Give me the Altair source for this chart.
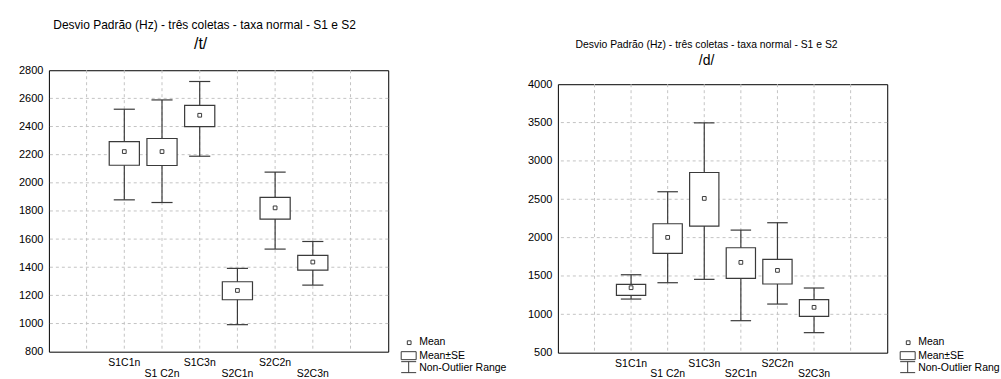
import altair as alt
import pandas as pd

FONT = "Liberation Sans"
LINE = "#3a3a3a"
GRID = "#c4c4c4"

# Categories (two sessions x three collections, normal rate)
CATEGORIES = ["S1C1n", "S1 C2n", "S1C3n", "S2C1n", "S2C2n", "S2C3n"]
POSITIONS = [2, 3, 4, 5, 6, 7]
LABEL_ROW = [0, 1, 0, 1, 0, 1]

# /t/ : standard deviation (Hz)
T_MEAN = [2222, 2222, 2480, 1235, 1822, 1437]
T_SE_LO = [2125, 2123, 2400, 1169, 1742, 1380]
T_SE_HI = [2293, 2315, 2551, 1297, 1896, 1484]
T_MIN = [1879, 1860, 2189, 992, 1529, 1273]
T_MAX = [2523, 2589, 2720, 1392, 2076, 1583]
T_TICKS = [800, 1000, 1200, 1400, 1600, 1800, 2000, 2200, 2400, 2600, 2800]

# /d/ : standard deviation (Hz)
D_MEAN = [1347, 2003, 2511, 1677, 1573, 1091]
D_SE_LO = [1247, 1794, 2150, 1469, 1395, 974]
D_SE_HI = [1391, 2181, 2849, 1868, 1716, 1191]
D_MIN = [1199, 1412, 1456, 917, 1134, 761]
D_MAX = [1516, 2598, 3496, 2098, 2194, 1343]
D_TICKS = [500, 1000, 1500, 2000, 2500, 3000, 3500, 4000]

X_GRID = [1, 2, 3, 4, 5, 6, 7, 8]

TITLE = "Desvio Padrão (Hz) - três coletas - taxa normal - S1 e S2"
LEGEND_LABELS = ["Mean", "Mean±SE", "Non-Outlier Range"]

BOX_HALF = 0.4
CAP_HALF = 0.28

ONE = pd.DataFrame({"k": [0]})


def frame(mean, se_lo, se_hi, lo, hi):
    df = pd.DataFrame({
        "cat": CATEGORIES, "pos": POSITIONS, "row": LABEL_ROW,
        "mean": mean, "se_lo": se_lo, "se_hi": se_hi, "lo": lo, "hi": hi,
    })
    df["box_l"] = df["pos"] - BOX_HALF
    df["box_r"] = df["pos"] + BOX_HALF
    df["cap_l"] = df["pos"] - CAP_HALF
    df["cap_r"] = df["pos"] + CAP_HALF
    return df


def legend(ox, oy, size, limit=None):
    one = alt.Chart(ONE)
    txt = dict(font=FONT, fontSize=size, align="left", baseline="middle", color="black")
    layers = [
        one.mark_point(shape="square", filled=True, fill="white", stroke=LINE,
                       strokeWidth=1, size=14, opacity=1).encode(
            x=alt.value(ox + 8), y=alt.value(oy)),
        one.mark_rect(fill="white", stroke=LINE, strokeWidth=1).encode(
            x=alt.value(ox), x2=alt.value(ox + 15),
            y=alt.value(oy + 9), y2=alt.value(oy + 17)),
        one.mark_rule(color=LINE, strokeWidth=1).encode(
            x=alt.value(ox), x2=alt.value(ox + 15), y=alt.value(oy + 19)),
        one.mark_rule(color=LINE, strokeWidth=1).encode(
            x=alt.value(ox), x2=alt.value(ox + 15), y=alt.value(oy + 30)),
        one.mark_rule(color=LINE, strokeWidth=1).encode(
            x=alt.value(ox + 7.5), y=alt.value(oy + 19), y2=alt.value(oy + 30)),
        one.mark_text(**txt).encode(x=alt.value(ox + 18), y=alt.value(oy - 1),
                                     text=alt.value(LEGEND_LABELS[0])),
        one.mark_text(**txt).encode(x=alt.value(ox + 18), y=alt.value(oy + 13),
                                     text=alt.value(LEGEND_LABELS[1])),
    ]
    last = dict(txt)
    if limit:
        last.update(limit=limit, ellipsis="\u200b")
    layers.append(one.mark_text(**last).encode(
        x=alt.value(ox + 18), y=alt.value(oy + 25), text=alt.value(LEGEND_LABELS[2])))
    return layers


def headings(title, subtitle, title_xy, sub_xy, title_size, sub_size):
    one = alt.Chart(ONE)
    return [
        one.mark_text(font=FONT, fontSize=title_size, align="center", baseline="middle",
                      color="black").encode(
            x=alt.value(title_xy[0]), y=alt.value(title_xy[1]), text=alt.value(title)),
        one.mark_text(font=FONT, fontSize=sub_size, align="center", baseline="middle",
                      color="black").encode(
            x=alt.value(sub_xy[0]), y=alt.value(sub_xy[1]), text=alt.value(subtitle)),
    ]


def panel(df, ticks, width, height, heads, rows, legend_xy, legend_limit=None,
          anchor=None):
    base = alt.Chart(df)
    x_scale = alt.Scale(domain=[0, 9], nice=False, zero=False)
    y_scale = alt.Scale(domain=[ticks[0], ticks[-1]], nice=False, zero=False)
    x_axis = alt.Axis(values=X_GRID, labels=False, ticks=False, domain=False,
                      grid=False, title=None)
    y_axis = alt.Axis(values=ticks, ticks=False, domain=False, grid=False, format="d",
                      title=None, labelPadding=6, labelOverlap=False, labelFlush=False,
                      labelFont=FONT, labelFontSize=11, labelColor="black")

    def X(field):
        return alt.X(field, scale=x_scale, axis=x_axis)

    def Y(field):
        return alt.Y(field, scale=y_scale, axis=y_axis)

    # interior dashed gridlines
    vgrid = alt.Chart(pd.DataFrame({"g": X_GRID})).mark_rule(
        color=GRID, strokeWidth=1, strokeDash=[3, 3]).encode(x=X("g:Q"))
    hgrid = alt.Chart(pd.DataFrame({"g": ticks[1:-1]})).mark_rule(
        color=GRID, strokeWidth=1, strokeDash=[3, 3]).encode(y=Y("g:Q"))

    whisker = base.mark_rule(color=LINE, strokeWidth=1.2).encode(
        x=X("pos:Q"), y=Y("lo:Q"), y2="hi:Q")
    cap_hi = base.mark_rule(color=LINE, strokeWidth=1.2).encode(
        x=X("cap_l:Q"), x2="cap_r:Q", y=Y("hi:Q"))
    cap_lo = base.mark_rule(color=LINE, strokeWidth=1.2).encode(
        x=X("cap_l:Q"), x2="cap_r:Q", y=Y("lo:Q"))
    boxes = base.mark_rect(fill="white", stroke=LINE, strokeWidth=1.2).encode(
        x=X("box_l:Q"), x2="box_r:Q", y=Y("se_lo:Q"), y2="se_hi:Q")
    means = base.mark_point(shape="square", filled=True, fill="white", stroke=LINE,
                            strokeWidth=1, size=14, opacity=1).encode(
        x=X("pos:Q"), y=Y("mean:Q"))
    lab = dict(font=FONT, fontSize=10.5, baseline="middle", color="black")
    labels_top = base.transform_filter("datum.row == 0").mark_text(**lab).encode(
        x=X("pos:Q"), y=alt.value(height + rows[0]), text="cat:N")
    labels_bot = base.transform_filter("datum.row == 1").mark_text(**lab).encode(
        x=X("pos:Q"), y=alt.value(height + rows[1]), text="cat:N")

    layers = [vgrid, hgrid, whisker, cap_hi, cap_lo, boxes, means, labels_top, labels_bot]
    layers += legend(legend_xy[0], legend_xy[1], 10.5, legend_limit)
    layers += heads
    if anchor:
        layers.append(alt.Chart(ONE).mark_rect(opacity=0).encode(
            x=alt.value(anchor[0]), x2=alt.value(anchor[0] + 1),
            y=alt.value(anchor[1]), y2=alt.value(anchor[1] + 1)))

    return alt.layer(*layers).properties(width=width, height=height)


left = panel(frame(T_MEAN, T_SE_LO, T_SE_HI, T_MIN, T_MAX), T_TICKS, 340, 282,
             headings(TITLE, "/t/", (156, -45), (152, -26), 12, 16),
             (11, 22), (353, 273), anchor=(-48, -69))

right = panel(frame(D_MEAN, D_SE_LO, D_SE_HI, D_MIN, D_MAX), D_TICKS, 330, 269,
              headings(TITLE, "/d/", (149, -39), (149, -23), 10.4, 14),
              (11, 21), (343, 259), legend_limit=82)

spacer = alt.Chart(ONE).mark_rect(opacity=0).encode(
    x=alt.value(0), x2=alt.value(1), y=alt.value(0), y2=alt.value(1)
).properties(width=330, height=14, view=alt.ViewBackground(stroke="transparent"))

chart = alt.hconcat(
    left,
    alt.vconcat(spacer, right, spacing=0, bounds="flush"),
    spacing=170, bounds="flush",
).properties(padding=0, background="white").configure_view(
    stroke="black", strokeWidth=1
)

chart.save("out.html", embed_options={"renderer": "svg", "actions": False})
